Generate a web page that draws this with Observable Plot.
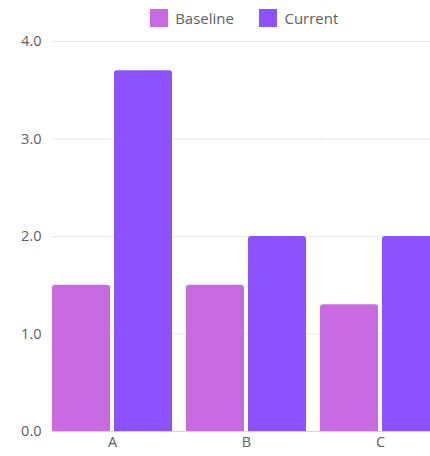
<!DOCTYPE html>
<html>
<head>
<meta charset="utf-8">
<script src="https://cdn.jsdelivr.net/npm/d3@7"></script>
<script src="https://cdn.jsdelivr.net/npm/@observablehq/plot@0.6"></script>
<style>
  html, body { margin: 0; padding: 0; background: #fff; overflow: hidden; }
  #chart { width: 430px; height: 456px; overflow: hidden; }
  #chart svg { max-width: none; display: block; }
  #chart [class$="-swatch"] { margin-right: 0 !important; }
</style>
</head>
<body>
<div id="chart"></div>
<script>
// Grouped bars: Baseline vs Current for each category
const categories = ["A", "B", "C"];
const series = ["Baseline", "Current"];
const baseline = [1.5, 1.5, 1.3];
const current = [3.7, 2.0, 2.0];
const seriesColors = ["#c86be3", "#8c52ff"];
const yTicks = [0, 1, 2, 3, 4];

const rows = categories.flatMap((c, i) => [
  {category: c, series: series[0], value: baseline[i]},
  {category: c, series: series[1], value: current[i]}
]);

const W = 488;
const font = "'Open Sans', sans-serif";
const textColor = "#606060";

const chart = Plot.plot({
  width: W,
  height: 420,
  marginTop: 5,
  marginLeft: 52,
  marginRight: 48,
  marginBottom: 25,
  style: {fontFamily: font, fontSize: "14.5px", color: textColor, background: "#fff", overflow: "visible"},
  fx: {domain: categories, paddingInner: 0.108, paddingOuter: 0, label: null},
  x: {domain: series, paddingInner: 0.065, paddingOuter: 0, axis: null},
  y: {domain: [0, 4], label: null},
  color: {domain: series, range: seriesColors},
  marks: [
    // grid lines run on through the gaps between the groups
    Plot.ruleY(yTicks, {stroke: "#e8e8e8", strokeWidth: 1, insetRight: -16}),
    Plot.axisY({ticks: yTicks, tickFormat: d3.format(".1f"), tickSize: 0, tickPadding: 11, label: null, fill: textColor}),
    Plot.axisFx({anchor: "bottom", tickSize: 0, tickPadding: 5, label: null, fill: textColor}),
    Plot.barY(rows, {fx: "category", x: "series", y: "value", fill: "series", ry1: 3}),
    Plot.ruleY([0], {stroke: "#d6d6d6", insetRight: -16})
  ]
});

const legend = chart.legend("color", {
  swatchSize: 18,
  style: {
    fontFamily: font,
    fontSize: "15px",
    color: textColor,
    width: W + "px",
    minHeight: "36px",
    height: "36px",
    margin: "0",
    gap: "25px",
    justifyContent: "center"
  }
});

const root = document.getElementById("chart");
root.appendChild(legend);
root.appendChild(chart);
</script>
</body>
</html>
